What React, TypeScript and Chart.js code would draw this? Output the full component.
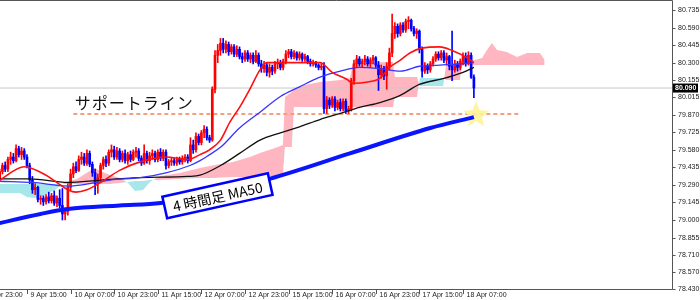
import { useEffect, useRef } from "react";
import { Chart, registerables } from "chart.js";

Chart.register(...registerables);

// ---------- data ----------
const firstBar = 5; // bar index of the first candle (index 0 = 8 Apr 23:00, 1 bar = 1 hour)

const opens = [
  79.37, 79.34, 79.40, 79.45, 79.42, 79.50, 79.52, 79.49, 79.59, 79.54,
  79.57, 79.52, 79.45, 79.33, 79.25, 79.27, 79.17, 79.18, 79.15, 79.19,
  79.16, 79.20, 79.14, 79.18, 79.12, 79.05, 79.07, 79.27, 79.38, 79.44,
  79.41, 79.50, 79.52, 79.47, 79.55, 79.46, 79.39, 79.30, 79.35, 79.45,
  79.50, 79.47, 79.56, 79.58, 79.52, 79.57, 79.50, 79.55, 79.49, 79.54,
  79.50, 79.56, 79.57, 79.51, 79.47, 79.55, 79.49, 79.53, 79.55, 79.50,
  79.56, 79.51, 79.56, 79.45, 79.48, 79.49, 79.47, 79.50, 79.48, 79.51,
  79.52, 79.49, 79.62, 79.58, 79.69, 79.64, 79.72, 79.75, 79.68, 79.66,
  80.08, 80.36, 80.40, 80.46, 80.41, 80.45, 80.39, 80.43, 80.37, 80.41,
  80.35, 80.33, 80.38, 80.33, 80.36, 80.31, 80.36, 80.29, 80.25, 80.28,
  80.22, 80.26, 80.23, 80.29, 80.30, 80.26, 80.31, 80.37, 80.39, 80.35,
  80.38, 80.34, 80.37, 80.33, 80.35, 80.31, 80.29, 80.30, 80.28, 80.26,
  80.27, 79.92, 79.99, 79.95, 80.00, 79.93, 79.97, 79.92, 79.98, 79.90,
  79.92, 80.15, 80.29, 80.33, 80.29, 80.31, 80.33, 80.29, 80.32, 80.34,
  80.28, 80.20, 80.25, 80.19, 80.27, 80.38, 80.54, 80.60, 80.54, 80.61,
  80.57, 80.64, 80.65, 80.58, 80.54, 80.56, 80.41, 80.23, 80.27, 80.24,
  80.29, 80.33, 80.37, 80.34, 80.38, 80.32, 80.35, 80.27, 80.24, 80.29,
  80.26, 80.31, 80.35, 80.30, 80.36, 80.18,
];
const highs = [
  79.41, 79.42, 79.47, 79.48, 79.52, 79.56, 79.55, 79.62, 79.61, 79.60,
  79.59, 79.54, 79.47, 79.36, 79.30, 79.28, 79.20, 79.20, 79.21, 79.23,
  79.22, 79.24, 79.20, 79.25, 79.26, 79.10, 79.30, 79.42, 79.47, 79.48,
  79.53, 79.56, 79.55, 79.58, 79.57, 79.48, 79.42, 79.38, 79.47, 79.52,
  79.53, 79.58, 79.62, 79.61, 79.60, 79.59, 79.57, 79.58, 79.56, 79.57,
  79.58, 79.60, 79.59, 79.53, 79.62, 79.57, 79.56, 79.58, 79.57, 79.58,
  79.59, 79.58, 79.58, 79.50, 79.51, 79.51, 79.52, 79.52, 79.53, 79.54,
  79.54, 79.68, 79.66, 79.72, 79.71, 79.74, 79.78, 79.77, 79.70, 80.10,
  80.40, 80.45, 80.50, 80.50, 80.48, 80.47, 80.45, 80.45, 80.44, 80.43,
  80.38, 80.40, 80.40, 80.38, 80.38, 80.40, 80.38, 80.32, 80.31, 80.30,
  80.29, 80.28, 80.31, 80.33, 80.32, 80.33, 80.40, 80.41, 80.41, 80.40,
  80.39, 80.39, 80.38, 80.37, 80.36, 80.33, 80.32, 80.31, 80.29, 80.29,
  80.30, 80.02, 80.01, 80.02, 80.02, 79.99, 80.00, 80.00, 80.00, 79.94,
  80.17, 80.32, 80.36, 80.35, 80.33, 80.36, 80.35, 80.34, 80.36, 80.35,
  80.31, 80.28, 80.27, 80.30, 80.42, 80.70, 80.63, 80.62, 80.63, 80.63,
  80.66, 80.68, 80.66, 80.60, 80.58, 80.57, 80.43, 80.30, 80.29, 80.31,
  80.35, 80.39, 80.39, 80.40, 80.40, 80.38, 80.36, 80.56, 80.32, 80.31,
  80.33, 80.38, 80.38, 80.39, 80.38, 80.20,
];
const lows = [
  79.31, 79.32, 79.38, 79.40, 79.40, 79.46, 79.47, 79.48, 79.52, 79.50,
  79.50, 79.43, 79.30, 79.22, 79.21, 79.15, 79.13, 79.12, 79.13, 79.14,
  79.14, 79.12, 79.11, 79.10, 79.00, 79.00, 79.04, 79.25, 79.35, 79.39,
  79.40, 79.46, 79.45, 79.45, 79.44, 79.36, 79.21, 79.22, 79.33, 79.42,
  79.44, 79.45, 79.52, 79.50, 79.50, 79.48, 79.48, 79.47, 79.46, 79.48,
  79.49, 79.52, 79.49, 79.45, 79.46, 79.47, 79.46, 79.50, 79.48, 79.48,
  79.49, 79.49, 79.42, 79.43, 79.45, 79.45, 79.45, 79.46, 79.46, 79.48,
  79.47, 79.48, 79.55, 79.56, 79.62, 79.62, 79.68, 79.66, 79.64, 79.65,
  80.05, 80.30, 80.36, 80.38, 80.38, 80.36, 80.37, 80.35, 80.35, 80.33,
  80.30, 80.31, 80.31, 80.30, 80.29, 80.30, 80.27, 80.22, 80.22, 80.19,
  80.18, 80.20, 80.21, 80.25, 80.24, 80.24, 80.29, 80.34, 80.33, 80.33,
  80.32, 80.32, 80.31, 80.31, 80.29, 80.27, 80.27, 80.26, 80.24, 80.24,
  79.88, 79.88, 79.92, 79.93, 79.90, 79.91, 79.90, 79.90, 79.88, 79.88,
  79.90, 80.12, 80.26, 80.27, 80.26, 80.28, 80.27, 80.26, 80.29, 80.26,
  80.07, 80.17, 80.16, 80.08, 80.24, 80.35, 80.50, 80.51, 80.52, 80.55,
  80.55, 80.58, 80.56, 80.52, 80.50, 80.38, 80.18, 80.21, 80.21, 80.22,
  80.27, 80.31, 80.32, 80.32, 80.30, 80.28, 80.24, 80.15, 80.22, 80.23,
  80.24, 80.28, 80.27, 80.28, 80.17, 80.01,
];
const closes = [
  79.34, 79.40, 79.45, 79.42, 79.50, 79.52, 79.49, 79.59, 79.54, 79.57,
  79.52, 79.45, 79.33, 79.25, 79.27, 79.17, 79.18, 79.15, 79.19, 79.16,
  79.20, 79.14, 79.18, 79.12, 79.05, 79.07, 79.27, 79.38, 79.44, 79.41,
  79.50, 79.52, 79.47, 79.55, 79.46, 79.39, 79.30, 79.35, 79.45, 79.50,
  79.47, 79.56, 79.58, 79.52, 79.57, 79.50, 79.55, 79.49, 79.54, 79.50,
  79.56, 79.57, 79.51, 79.47, 79.55, 79.49, 79.53, 79.55, 79.50, 79.56,
  79.51, 79.56, 79.45, 79.48, 79.49, 79.47, 79.50, 79.48, 79.51, 79.52,
  79.49, 79.62, 79.58, 79.69, 79.64, 79.72, 79.75, 79.68, 79.66, 80.08,
  80.36, 80.40, 80.46, 80.41, 80.45, 80.39, 80.43, 80.37, 80.41, 80.35,
  80.33, 80.38, 80.33, 80.36, 80.31, 80.36, 80.29, 80.25, 80.28, 80.22,
  80.26, 80.23, 80.29, 80.30, 80.26, 80.31, 80.37, 80.39, 80.35, 80.38,
  80.34, 80.37, 80.33, 80.35, 80.31, 80.29, 80.30, 80.28, 80.26, 80.27,
  79.92, 79.99, 79.95, 80.00, 79.93, 79.97, 79.92, 79.98, 79.90, 79.92,
  80.15, 80.29, 80.33, 80.29, 80.31, 80.33, 80.29, 80.32, 80.34, 80.28,
  80.20, 80.25, 80.19, 80.27, 80.38, 80.54, 80.60, 80.54, 80.61, 80.57,
  80.64, 80.65, 80.58, 80.54, 80.56, 80.41, 80.23, 80.27, 80.24, 80.29,
  80.33, 80.37, 80.34, 80.38, 80.32, 80.35, 80.27, 80.24, 80.29, 80.26,
  80.31, 80.35, 80.30, 80.36, 80.18, 80.09,
];

// moving averages (bar index, price)
const redMaX = [6, 15, 23, 31, 34, 38, 43, 50, 57.5, 67, 75, 79.5, 83, 87, 90.5, 94, 98, 101.5, 104, 110, 116, 123.5, 128, 133.5, 135.5, 141, 145.5, 149, 153, 156.5, 161, 167.5, 172, 177.5, 180];
const redMaY = [79.33, 79.44, 79.37, 79.25, 79.23, 79.25, 79.31, 79.41, 79.48, 79.52, 79.50, 79.54, 79.58, 79.66, 79.81, 79.93, 80.09, 80.24, 80.30, 80.30, 80.30, 80.30, 80.22, 80.16, 80.13, 80.14, 80.17, 80.26, 80.32, 80.38, 80.42, 80.43, 80.40, 80.34, 80.30];

const blueMaX = [6, 18, 31, 39, 46.5, 57.5, 67, 75.8, 79.5, 83, 87, 94, 101.5, 109, 116, 123.5, 131, 138, 145.5, 153, 160, 167.5, 175, 180];
const blueMaY = [79.32, 79.31, 79.28, 79.30, 79.33, 79.35, 79.39, 79.45, 79.49, 79.54, 79.60, 79.76, 79.89, 80.02, 80.10, 80.18, 80.23, 80.26, 80.25, 80.23, 80.27, 80.28, 80.29, 80.30];

const blackMaX = [6, 17, 31, 43, 57.5, 75, 79.5, 87, 94, 101.5, 109, 116, 123.5, 131, 138, 145.5, 153, 160, 169, 176, 180];
const blackMaY = [79.34, 79.34, 79.31, 79.33, 79.35, 79.36, 79.37, 79.45, 79.55, 79.66, 79.72, 79.77, 79.83, 79.88, 79.93, 79.97, 80.03, 80.12, 80.17, 80.22, 80.26];

// 4-hour MA50 (bar index, price)
const ma50h4X = [5, 21, 31, 50, 65, 85, 105, 134.5, 164, 180];
const ma50h4Y = [78.97, 79.05, 79.09, 79.12, 79.14, 79.23, 79.34, 79.55, 79.76, 79.85];

// Ichimoku cloud (bar index, span A, span B)
const cloudX = [6.1, 13.4, 16, 18.9, 22.6, 26.3, 28.8, 31.8, 34.4, 38.4, 40.9, 42.8, 46.5, 50.1, 53.1, 55.6, 58.6, 61.1, 64.8, 72.1, 79.5, 85, 91.6, 97.8, 101.5, 107, 109.9, 110.7, 113.2, 114, 116.2, 123.5, 130.9, 134.5, 135.6, 150.3, 151, 159.1, 160.2, 168.7, 169.8, 174.9, 175.6, 180.4, 183, 184.8, 186.6, 188.5, 192.1, 195.8, 197.7, 199.5, 204.2, 206];
const spanA = [79.223, 79.223, 79.19, 79.182, 79.206, 79.248, 79.297, 79.322, 79.338, 79.396, 79.429, 79.404, 79.372, 79.347, 79.305, 79.239, 79.248, 79.314, 79.363, 79.388, 79.429, 79.454, 79.479, 79.52, 79.553, 79.595, 79.619, 80.016, 80.057, 80.074, 80.107, 80.14, 80.156, 80.173, 80.297, 80.305, 80.181, 80.181, 80.107, 80.107, 80.28, 80.288, 80.305, 80.321, 80.338, 80.404, 80.462, 80.404, 80.388, 80.346, 80.363, 80.379, 80.379, 80.321];
const spanB = [79.297, 79.297, 79.297, 79.297, 79.297, 79.297, 79.297, 79.297, 79.297, 79.297, 79.297, 79.297, 79.297, 79.305, 79.314, 79.322, 79.322, 79.33, 79.33, 79.338, 79.347, 79.347, 79.355, 79.355, 79.355, 79.363, 79.363, 79.603, 79.603, 79.933, 79.933, 79.933, 79.933, 79.933, 79.933, 79.933, 80.016, 80.016, 80.173, 80.173, 80.156, 80.156, 80.28, 80.28, 80.28, 80.28, 80.28, 80.28, 80.28, 80.28, 80.28, 80.28, 80.28, 80.28];

const supportPrice = 79.875;
const supportFromBar = 33;
const supportToBar = 197;
const lastPrice = 80.09;

const timeLabels = ["8 Apr 23:00", "9 Apr 15:00", "10 Apr 07:00", "10 Apr 23:00", "11 Apr 15:00", "12 Apr 07:00", "12 Apr 23:00", "15 Apr 15:00", "16 Apr 07:00", "16 Apr 23:00", "17 Apr 15:00", "18 Apr 07:00"];
const timeBars = [0, 16, 32, 48, 64, 80, 96, 112, 128, 144, 160, 176];
const priceTicks = [80.735, 80.59, 80.445, 80.3, 80.155, 80.015, 79.87, 79.725, 79.58, 79.435, 79.29, 79.145, 79.0, 78.855, 78.71, 78.57, 78.43];

const supportText = "サポートライン";
const maLabelText = "4 時間足 MA50";

// ---------- layout / style ----------
const X_MIN = 6.1;
const X_MAX = 252.7;
const Y_MIN = 78.43;
const Y_MAX = 80.809;
const UP = "#ff0000";
const DOWN = "#0000ff";
const AXIS_FONT = "7px 'Liberation Sans', Arial, sans-serif";

const pts = (xs: number[], ys: number[]) => xs.map((x, k) => ({ x, y: ys[k] }));

const decoPlugin = {
  id: "deco",
  beforeDatasetDraw(chart: any, args: any) {
    if (args.index !== chart.data.datasets.length - 1) return;
    const { ctx, scales } = chart;
    const cx = scales.x.getPixelForValue(180.8);
    const cy = scales.y.getPixelForValue(79.867);
    ctx.save();
    ctx.beginPath();
    for (let k = 0; k < 10; k++) {
      const r = k % 2 === 0 ? 14 : 6;
      const a = -Math.PI / 2 + (k * Math.PI) / 5;
      ctx.lineTo(cx + r * Math.cos(a), cy + r * Math.sin(a));
    }
    ctx.closePath();
    ctx.fillStyle = "rgba(255,243,150,0.9)";
    ctx.fill();
    ctx.restore();
  },
  afterDatasetsDraw(chart: any) {
    const { ctx, scales } = chart;
    ctx.save();
    // support text
    ctx.font = "16px 'Noto Sans CJK JP', sans-serif";
    (ctx as any).letterSpacing = "1px";
    ctx.fillStyle = "#111";
    ctx.textBaseline = "middle";
    ctx.textAlign = "left";
    ctx.fillText(supportText, scales.x.getPixelForValue(33.5), scales.y.getPixelForValue(79.97));
    (ctx as any).letterSpacing = "0px";
    // MA50 label box
    const bx = scales.x.getPixelForValue(85.9);
    const by = scales.y.getPixelForValue(79.2);
    ctx.translate(bx, by);
    ctx.rotate((-12.5 * Math.PI) / 180);
    ctx.fillStyle = "#ffffff";
    ctx.fillRect(-54, -11, 108, 22);
    ctx.strokeStyle = "#0000ff";
    ctx.lineWidth = 2.5;
    ctx.strokeRect(-54, -11, 108, 22);
    ctx.fillStyle = "#000";
    ctx.font = "14px 'Noto Sans CJK JP', sans-serif";
    ctx.textAlign = "center";
    ctx.textBaseline = "middle";
    ctx.fillText(maLabelText, 0, 1);
    ctx.restore();
  },
  afterDraw(chart: any) {
    const { ctx, chartArea, scales } = chart;
    const { left, right, top, bottom } = chartArea;
    ctx.save();
    ctx.strokeStyle = "#555";
    ctx.lineWidth = 1;
    ctx.beginPath();
    ctx.moveTo(left, top - 0.5);
    ctx.lineTo(right + 0.5, top - 0.5);
    ctx.lineTo(right + 0.5, bottom + 0.5);
    ctx.lineTo(left, bottom + 0.5);
    ctx.stroke();
    ctx.font = AXIS_FONT;
    ctx.fillStyle = "#222";
    ctx.textBaseline = "middle";
    ctx.textAlign = "left";
    priceTicks.forEach((v) => {
      const py = Math.round(scales.y.getPixelForValue(v)) + 0.5;
      ctx.beginPath();
      ctx.moveTo(right + 0.5, py);
      ctx.lineTo(right + 3.5, py);
      ctx.stroke();
      ctx.fillText(v.toFixed(3), right + 6, py);
    });
    timeBars.forEach((b, k) => {
      const px = Math.round(scales.x.getPixelForValue(b)) + 0.5;
      ctx.beginPath();
      ctx.moveTo(px, bottom + 0.5);
      ctx.lineTo(px, bottom + 5);
      ctx.stroke();
      ctx.fillText(timeLabels[k], px + 3, bottom + 6);
    });
    // current price box
    const cy = scales.y.getPixelForValue(lastPrice);
    ctx.fillStyle = "#000";
    ctx.fillRect(right + 1, cy - 4.5, 25, 9);
    ctx.fillStyle = "#fff";
    ctx.font = "bold " + AXIS_FONT;
    ctx.fillText(lastPrice.toFixed(3), right + 3, cy);
    ctx.restore();
  },
};

export default function App() {
  const ref = useRef<HTMLCanvasElement | null>(null);

  useEffect(() => {
    if (!ref.current) return;
    const bars = opens.map((_, k) => firstBar + k);
    const colors = opens.map((o, k) => (closes[k] >= o ? UP : DOWN));

    const chart = new Chart(ref.current, {
      type: "line",
      data: {
        datasets: [
          {
            type: "line",
            data: pts(cloudX, spanA),
            borderColor: "rgba(0,0,0,0)",
            borderWidth: 0,
            pointRadius: 0,
            fill: { target: "+1", above: "#ffb6c1", below: "#a6e7ec" },
            order: 20,
          },
          {
            type: "line",
            data: pts(cloudX, spanB),
            borderColor: "rgba(0,0,0,0)",
            borderWidth: 0,
            pointRadius: 0,
            fill: false,
            order: 19,
          },
          {
            type: "line",
            data: [
              { x: X_MIN, y: lastPrice },
              { x: X_MAX, y: lastPrice },
            ],
            borderColor: "#c8c8c8",
            borderWidth: 1,
            pointRadius: 0,
            order: 15,
          },
          {
            type: "line",
            data: [
              { x: supportFromBar, y: supportPrice },
              { x: supportToBar, y: supportPrice },
            ],
            borderColor: "#f4a07e",
            borderWidth: 2,
            borderDash: [4, 3],
            pointRadius: 0,
            order: 14,
          },
          {
            type: "bar",
            data: bars.map((b, k) => ({ x: b, y: [lows[k], highs[k]] })) as any,
            backgroundColor: colors,
            barThickness: 1,
            grouped: false,
            order: 12,
          },
          {
            type: "bar",
            data: bars.map((b, k) => ({ x: b, y: [opens[k], closes[k]] })) as any,
            backgroundColor: colors,
            barThickness: 2,
            minBarLength: 1,
            grouped: false,
            order: 11,
          },
          {
            type: "line",
            data: pts(blackMaX, blackMaY),
            borderColor: "#111",
            borderWidth: 1.3,
            pointRadius: 0,
            cubicInterpolationMode: "monotone",
            order: 5,
          },
          {
            type: "line",
            data: pts(blueMaX, blueMaY),
            borderColor: "#3a32ff",
            borderWidth: 1.3,
            pointRadius: 0,
            cubicInterpolationMode: "monotone",
            order: 4,
          },
          {
            type: "line",
            data: pts(redMaX, redMaY),
            borderColor: "#ff1010",
            borderWidth: 1.6,
            pointRadius: 0,
            cubicInterpolationMode: "monotone",
            order: 3,
          },
          {
            type: "line",
            data: pts(ma50h4X, ma50h4Y),
            borderColor: "#0a14ff",
            borderWidth: 4,
            pointRadius: 0,
            cubicInterpolationMode: "monotone",
            order: 1,
          },
        ] as any,
      },
      options: {
        animation: false,
        responsive: false,
        events: [],
        layout: { padding: { left: 0, right: 28, top: 1, bottom: 11 } },
        plugins: { legend: { display: false }, tooltip: { enabled: false } },
        scales: {
          x: { type: "linear", min: X_MIN, max: X_MAX, offset: false, display: false },
          y: { type: "linear", min: Y_MIN, max: Y_MAX, display: false },
        },
      },
      plugins: [decoPlugin],
    });
    return () => chart.destroy();
  }, []);

  return (
    <div style={{ position: "fixed", left: 0, top: 0, width: 700, height: 300, background: "#fff" }}>
      <canvas ref={ref} width={700} height={300} />
    </div>
  );
}
